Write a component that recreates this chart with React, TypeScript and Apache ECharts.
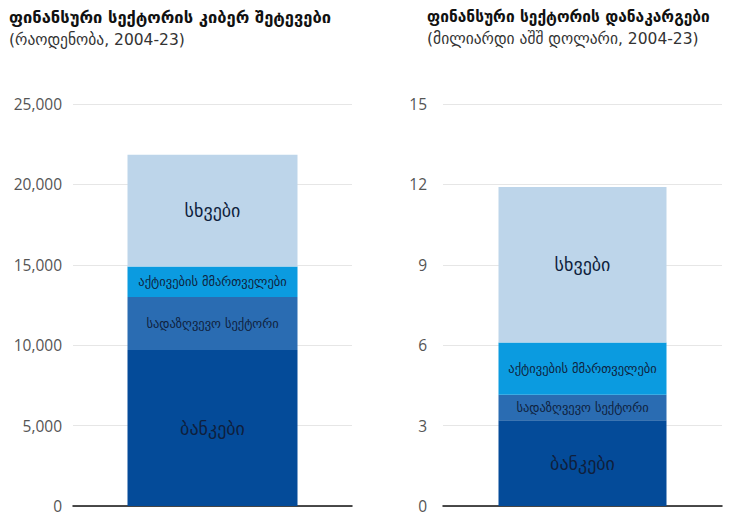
import React, { useEffect, useRef } from "react";
import * as echarts from "echarts";

const segmentNames = ["ბანკები", "სადაზღვევო სექტორი", "აქტივების მმართველები", "სხვები"];
const segmentColors = ["#044b99", "#2a6cb2", "#0b9be0", "#bdd5ea"];
const attacksValues = [9700, 3300, 1900, 6950];
const lossesValues = [3.2, 0.95, 1.95, 5.8];
const labelSizes = [18, 12.5, 12.5, 18];

const leftTitle = "ფინანსური სექტორის კიბერ შეტევები";
const leftSub = "(რაოდენობა, 2004-23)";
const rightTitle = "ფინანსური სექტორის დანაკარგები";
const rightSub = "(მილიარდი აშშ დოლარი, 2004-23)";

const geo = "'DejaVu Sans', 'Noto Sans', sans-serif";
const num = "'Open Sans', 'Noto Sans', sans-serif";

export default function App() {
  const ref = useRef<HTMLDivElement>(null);
  useEffect(() => {
    if (!ref.current) return;
    const chart = echarts.init(ref.current, null, { renderer: "svg" });
    const mkSeries = (vals: number[], idx: number) =>
      vals.map((v, i) => ({
        type: "bar",
        name: segmentNames[i],
        stack: "s" + idx,
        xAxisIndex: idx,
        yAxisIndex: idx,
        barWidth: idx === 0 ? 170 : 168,
        data: [v],
        itemStyle: { color: segmentColors[i] },
        label: {
          show: true,
          position: "inside",
          formatter: segmentNames[i],
          color: "#0f1f3d",
          fontFamily: geo,
          fontSize: labelSizes[i],
        },
        emphasis: { disabled: true },
      }));
    const yAxisCommon = {
      type: "value",
      axisLine: { show: false },
      axisTick: { show: false },
      splitLine: { lineStyle: { color: "#e6e6e6", width: 1 } },
      axisLabel: { color: "#555", fontSize: 15.5, fontFamily: num },
    };
    const xAxisCommon = {
      type: "category",
      data: [""],
      axisLine: { show: true, lineStyle: { color: "#111", width: 1.5 } },
      axisTick: { show: false },
      axisLabel: { show: false },
    };
    const subStyle = { fontFamily: geo, fontSize: 15.5, color: "#333" };
    chart.setOption({
      animation: false,
      title: [
        {
          text: leftTitle, subtext: leftSub, left: 4, top: 4, itemGap: 6,
          textStyle: { fontFamily: geo, fontSize: 16.5, fontWeight: "bold", color: "#111" },
          subtextStyle: subStyle,
        },
        {
          text: rightTitle, subtext: rightSub, left: 422, top: 4, itemGap: 6,
          textStyle: { fontFamily: geo, fontSize: 15.5, fontWeight: "bold", color: "#111" },
          subtextStyle: subStyle,
        },
      ],
      grid: [
        { left: 73, right: 384, top: 104, bottom: 12 },
        { left: 443, right: 14, top: 104, bottom: 12 },
      ],
      xAxis: [
        { ...xAxisCommon, gridIndex: 0 },
        { ...xAxisCommon, gridIndex: 1 },
      ],
      yAxis: [
        {
          ...yAxisCommon,
          gridIndex: 0,
          min: 0,
          max: 25000,
          interval: 5000,
          axisLabel: {
            ...yAxisCommon.axisLabel,
            margin: 11,
            formatter: (v: number) => v.toLocaleString("en-US"),
          },
        },
        {
          ...yAxisCommon,
          gridIndex: 1,
          min: 0,
          max: 15,
          interval: 3,
          axisLabel: { ...yAxisCommon.axisLabel, margin: 16 },
        },
      ],
      series: [...mkSeries(attacksValues, 0), ...mkSeries(lossesValues, 1)],
    });
    return () => chart.dispose();
  }, []);
  return <div ref={ref} style={{ position: "absolute", left: 0, top: 0, width: 736, height: 518 }} />;
}
